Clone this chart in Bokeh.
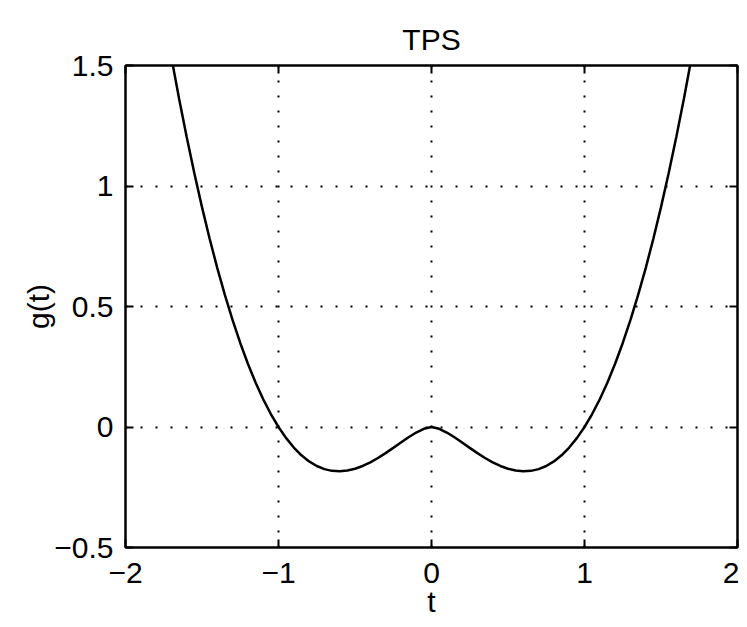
from bokeh.plotting import figure
from bokeh.models import LinearAxis, FixedTicker, Range1d, CustomJSTickFormatter
from bokeh.embed import file_html
from bokeh.resources import INLINE

t_pos = [0.0, 0.05, 0.10, 0.15, 0.20, 0.25, 0.30, 0.35, 0.40, 0.45, 0.50, 0.55, 0.60,
         0.65, 0.70, 0.75, 0.80, 0.85, 0.90, 0.95, 1.00, 1.05, 1.10, 1.15, 1.20,
         1.25, 1.30, 1.35, 1.40, 1.45, 1.50, 1.55, 1.60, 1.65, 1.70]
g_pos = [0.0, -0.0075, -0.0230, -0.0427, -0.0644, -0.0866, -0.1084, -0.1286, -0.1466,
         -0.1617, -0.1733, -0.1808, -0.1839, -0.1820, -0.1748, -0.1618, -0.1428,
         -0.1174, -0.0853, -0.0463, 0.0, 0.0538, 0.1153, 0.1848, 0.2625, 0.3487,
         0.4434, 0.5469, 0.6595, 0.7812, 0.9123, 1.0530, 1.2032, 1.3634, 1.5335]

t_vals = [-v for v in reversed(t_pos[1:])] + t_pos
g_vals = list(reversed(g_pos[1:])) + g_pos

x_ticks = [-2, -1, 0, 1, 2]
y_ticks = [-0.5, 0, 0.5, 1, 1.5]

FONT = "Liberation Sans"
FS = "30px"

p = figure(width=739, height=620, output_backend="svg", toolbar_location=None,
           x_range=Range1d(-2, 2), y_range=Range1d(-0.5, 1.5),
           title="TPS", x_axis_label="t", y_axis_label="g(t)",
           min_border_left=125, min_border_right=2, min_border_top=65, min_border_bottom=72)

p.title.align = "center"
p.title.text_font = FONT
p.title.text_font_size = FS
p.title.text_font_style = "normal"
p.title.text_color = "black"
p.title.standoff = 20

p.line(t_vals, g_vals, line_color="black", line_width=2.5)

for ax in (p.xaxis[0], p.yaxis[0]):
    ax.axis_line_color = "black"
    ax.axis_line_width = 2
    ax.major_tick_in = 8
    ax.major_tick_out = 0
    ax.major_tick_line_width = 2
    ax.minor_tick_line_color = None
    ax.major_label_text_font = FONT
    ax.major_label_text_font_size = FS
    ax.major_label_text_color = "black"
    ax.axis_label_text_font = FONT
    ax.axis_label_text_font_size = FS
    ax.axis_label_text_font_style = "normal"
    ax.axis_label_text_color = "black"

p.xaxis.ticker = FixedTicker(ticks=x_ticks)
p.yaxis.ticker = FixedTicker(ticks=y_ticks)
p.xaxis.major_label_overrides = {-2: "\u22122", -1: "\u22121", 0: "0", 1: "1", 2: "2"}
p.yaxis.major_label_overrides = {-0.5: "\u22120.5", 0: "0", 0.5: "0.5", 1: "1", 1.5: "1.5"}
p.xaxis.major_label_standoff = 15
p.yaxis.major_label_standoff = 12
p.xaxis.axis_label_standoff = -1
p.yaxis.axis_label_standoff = -4

for loc, tk in (("above", x_ticks), ("right", y_ticks)):
    ax = LinearAxis(ticker=FixedTicker(ticks=tk),
                    formatter=CustomJSTickFormatter(code="return ''"))
    ax.axis_line_color = "black"
    ax.axis_line_width = 2
    ax.major_tick_in = 8
    ax.major_tick_out = 0
    ax.major_tick_line_width = 2
    ax.minor_tick_line_color = None
    ax.major_label_standoff = 0
    p.add_layout(ax, loc)

p.xgrid.ticker = FixedTicker(ticks=x_ticks)
p.ygrid.ticker = FixedTicker(ticks=y_ticks)
for g in (p.xgrid[0], p.ygrid[0]):
    g.grid_line_color = "black"
    g.grid_line_dash = "2 13"
    g.grid_line_width = 2

p.outline_line_color = "black"
p.outline_line_width = 2
p.background_fill_color = "white"
p.border_fill_color = "white"

open("out.html", "w").write(file_html(p, INLINE))
